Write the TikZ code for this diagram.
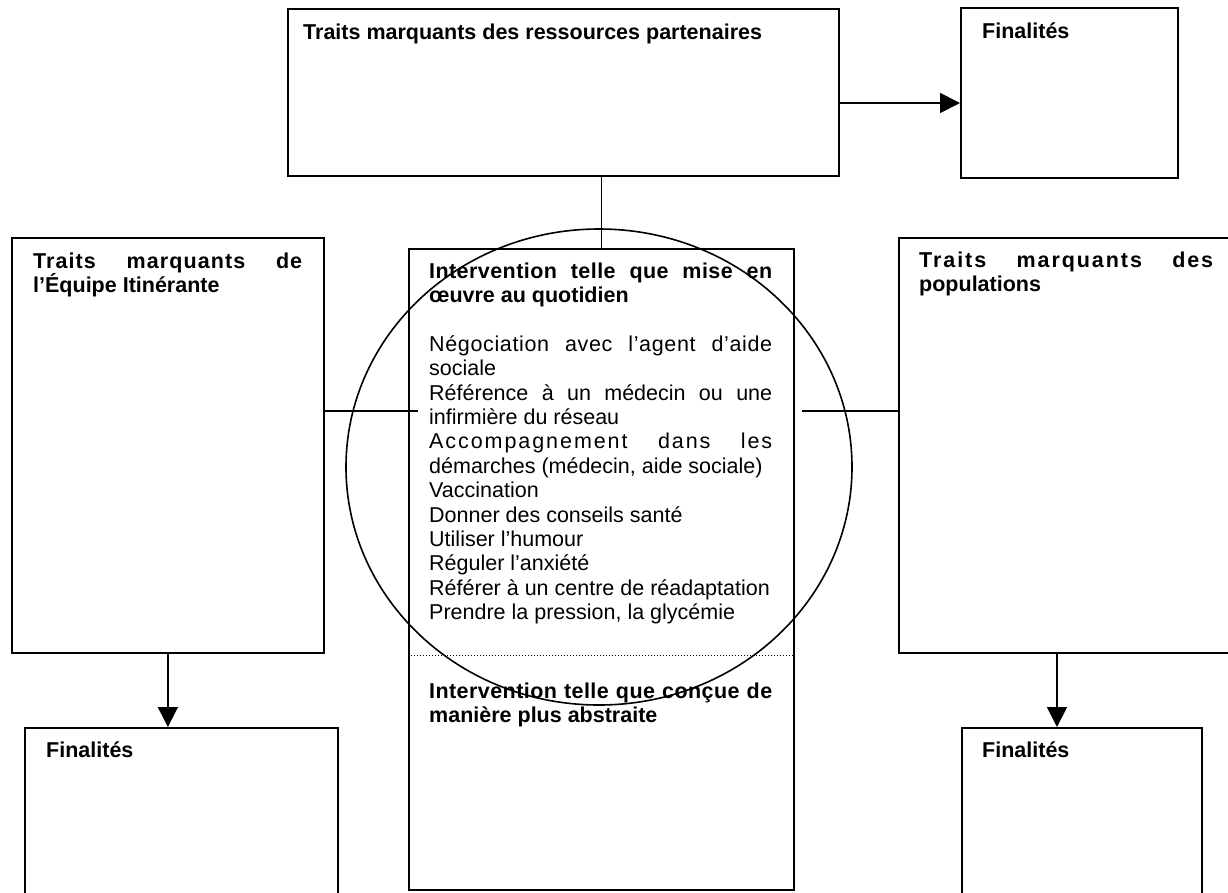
\documentclass[tikz,border=0pt]{standalone}
\usepackage{fontspec}
\setmainfont{Liberation Sans}
\usetikzlibrary{arrows.meta}
\newcommand{\lsp}[2]{{\addfontfeature{LetterSpace=#1}#2}}
\begin{document}
\begin{tikzpicture}[x=1pt,y=-1pt,
  box/.style={draw, line width=1.8pt, inner sep=0pt, anchor=north west},
  lbl/.style={anchor=base west, inner sep=0pt, align=justify, font=\fontsize{21.5}{24.4}\selectfont},
  conn/.style={line width=1.8pt},
  arr/.style={line width=1.8pt, -{Triangle[length=20pt,width=20pt]}},
]
\useasboundingbox (0,0) rectangle (1228,892);
\clip (0,0) rectangle (1228,892);
\fill[white] (0,0) rectangle (1228,892);

% boxes
\node[box, minimum width=551pt, minimum height=167pt] (top) at (287,8) {};
\node[box, minimum width=217pt, minimum height=170pt] (fin1) at (960,7) {};
\node[box, minimum width=312pt, minimum height=415pt] (left) at (11,237) {};
\node[box, minimum width=345pt, minimum height=415pt] (right) at (898,237) {};
\node[box, minimum width=385pt, minimum height=641pt] (cbox) at (408,248) {};
\node[box, minimum width=313pt, minimum height=180pt] (fin2) at (24,727) {};
\node[box, minimum width=240pt, minimum height=180pt] (fin3) at (961,727) {};

% texts
\node[lbl, text width=520pt] (ttop) at (303,39) {\bfseries Traits marquants des ressources partenaires};
\node[lbl, text width=180pt] (tfin1) at (982,38) {\bfseries Finalités};
\node[lbl, text width=269pt] (tleft) at (33,268) {\bfseries \lsp{5}{Traits marquants de}\linebreak l’Équipe Itinérante};
\node[lbl, text width=294pt] (tright) at (919,267) {\bfseries \lsp{9}{Traits marquants des}\linebreak populations};
\node[lbl, text width=343pt] (tcen) at (429,278) {{\bfseries \lsp{2}{Intervention telle que mise en}\linebreak œuvre au quotidien\par}
\vspace{24.4pt}
\lsp{3}{Négociation avec l’agent d’aide}\linebreak sociale\par
Référence à un médecin ou une\linebreak infirmière du réseau\par
\lsp{9}{Accompagnement dans les}\linebreak démarches (médecin, aide sociale)\par
Vaccination\par
Donner des conseils santé\par
Utiliser l’humour\par
Réguler l’anxiété\par
Référer à un centre de réadaptation\par
Prendre la pression, la glycémie};
\node[lbl, text width=343pt] (tcen2) at (429,698) {\bfseries \lsp{2}{Intervention telle que conçue de}\linebreak manière plus abstraite};
\node[lbl, text width=200pt] (tfin2) at (46,757) {\bfseries Finalités};
\node[lbl, text width=200pt] (tfin3) at (982,757) {\bfseries Finalités};

% circle
\draw[line width=1.6pt] (599,467) ellipse [x radius=253, y radius=238];

% dotted separator
\coordinate (sep) at (600,655);
\draw[dotted, line width=1pt] (cbox.west |- sep) -- (cbox.east |- sep);

% connectors
\draw[conn] (top.south -| cbox.north) -- (cbox.north);
\coordinate (cl) at (418,411);
\coordinate (cr) at (802,411);
\draw[conn] (left.east |- cl) -- (cl);
\draw[conn] (cr) -- (right.west |- cr);
\coordinate (ta) at (900,103);
\draw[arr] (top.east |- ta) -- (fin1.west |- ta);
\draw[arr] (left.south) -- (fin2.north -| left.south);
\coordinate (ra) at (1057,652);
\draw[arr] (ra) -- (fin3.north -| ra);
\end{tikzpicture}
\end{document}
